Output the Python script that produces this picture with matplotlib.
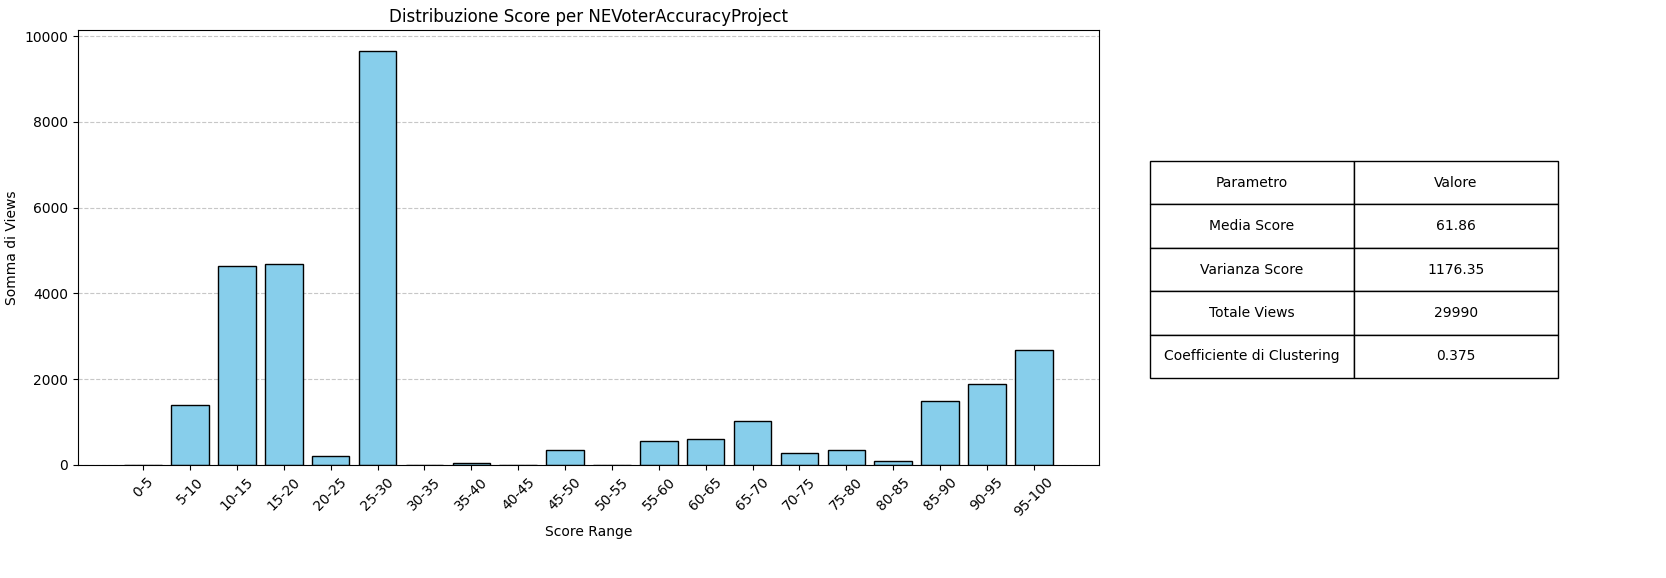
import matplotlib
matplotlib.use("Agg")
import matplotlib.pyplot as plt

categories = ["0-5","5-10","10-15","15-20","20-25","25-30","30-35","35-40","40-45","45-50",
              "50-55","55-60","60-65","65-70","70-75","75-80","80-85","85-90","90-95","95-100"]
views = [5,1390,4630,4680,220,9660,5,50,5,360,5,570,600,1020,290,340,100,1500,1890,2670]
table_rows = [["Parametro","Valore"],
              ["Media Score","61.86"],
              ["Varianza Score","1176.35"],
              ["Totale Views","29990"],
              ["Coefficiente di Clustering","0.375"]]

fig = plt.figure(figsize=(16.66,5.78), dpi=100)
W, H = 1666, 578
ax = fig.add_axes([78/W, 1-465/H, (1099-78)/W, (465-30)/H])
ax.bar(categories, views, color="skyblue", edgecolor="black")
ax.set_title("Distribuzione Score per NEVoterAccuracyProject")
ax.set_xlabel("Score Range")
ax.set_ylabel("Somma di Views")
ax.tick_params(axis="x", rotation=45)
ax.yaxis.grid(True, linestyle="--", alpha=0.7)
ax.set_axisbelow(True)

tax = fig.add_axes([1150/W, 1-378/H, (1558-1150)/W, (378-161)/H])
tax.axis("off")
tbl = tax.table(cellText=table_rows, cellLoc="center", bbox=[0,0,1,1])
tbl.auto_set_font_size(False)
tbl.set_fontsize(10)
fig.savefig("out.png", dpi=100)
